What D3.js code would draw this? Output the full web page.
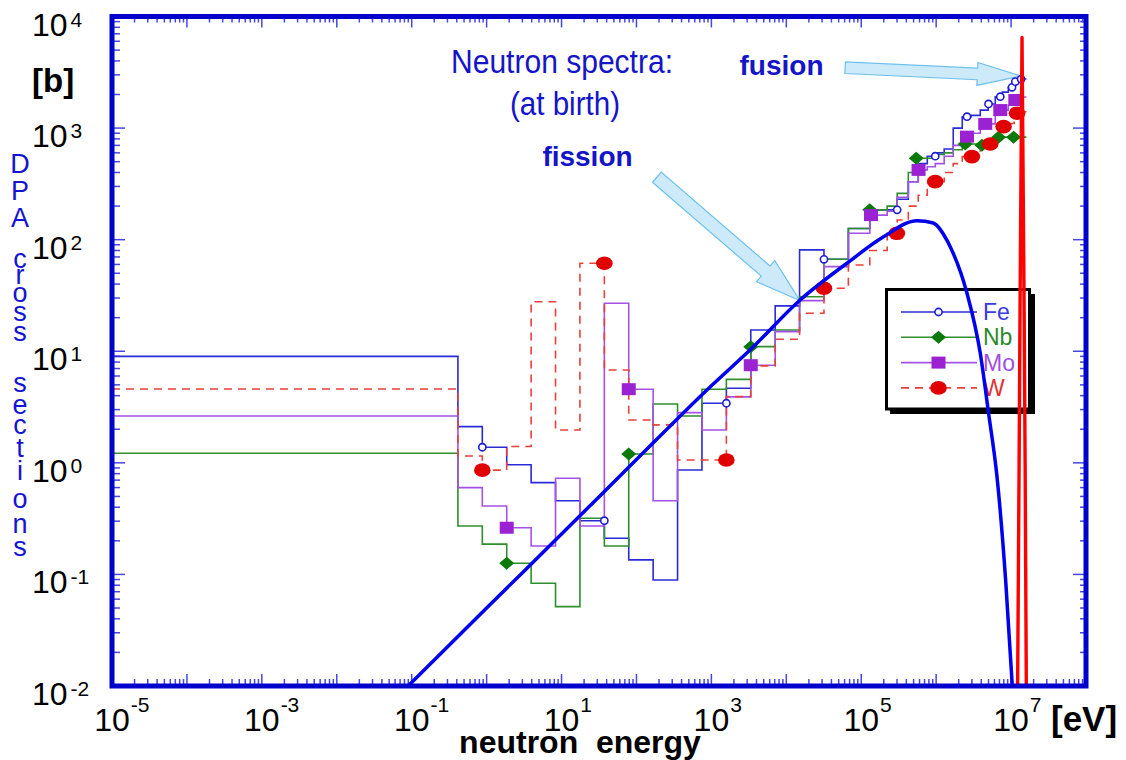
<!DOCTYPE html>
<html>
<head>
<meta charset="utf-8">
<script src="https://cdn.jsdelivr.net/npm/d3@7"></script>
<style>
  body { margin: 0; background: #ffffff; }
  svg { display: block; font-family: "Liberation Sans", Arial, sans-serif; }
</style>
</head>
<body>
<svg id="chart" width="1126" height="760"></svg>
<script>
// ---- energy group structure (eV) ----
const energyEdges = [1e-5, 0.414, 0.876, 1.855, 3.928, 8.315, 17.6, 37.27, 78.89, 167, 353.6, 748.5,
  1585, 3355, 7102, 15030, 31820, 67380, 1.3e5, 2.22e5, 3.02e5, 4.25e5, 5.77e5, 7.61e5, 9.73e5,
  1.28e6, 1.69e6, 2.23e6, 2.94e6, 3.88e6, 4.96e6, 6.15e6, 7.63e6, 9.18e6, 1.10e7, 1.33e7, 1.6e7];

// ---- DPA cross sections per group (barn) ----
const feDpa = [9.0, 2.11, 1.38, 0.96, 0.665, 0.458, 0.303, 0.211, 0.135, 0.089, 0.863, 3.42, 4.66, 15.5, 25.5, 81, 66.7, 126,
  185, 185, 230, 330, 480, 560, 600, 650, 1000, 1265, 1300, 1450, 1645, 1911, 2100, 2321, 2608, 2750];
const nbDpa = [1.22, 0.272, 0.187, 0.126, 0.0834, 0.0514, 0.319, 0.18, 1.20, 3.37, 2.63, 4.57, 5.6, 11.0, 15.5, 30.8, 66.7, 126,
  185, 200, 260, 400, 536, 536, 580, 600, 640, 721, 721, 700, 760, 829, 829, 829, 829, 829];
const moDpa = [2.63, 0.60, 0.41, 0.262, 0.180, 0.728, 0.272, 26.9, 4.57, 0.458, 2.82, 1.97, 3.9, 7.5, 15.0, 28.4, 57.3, 114,
  166, 180, 240, 330, 422, 450, 480, 560, 700, 838, 900, 1090, 1090, 1450, 1450, 1600, 1785, 1900];
const wDpa = [4.59, 1.15, 0.86, 1.40, 27.8, 1.97, 61.5, 6.8, 2.42, 2.19, 1.06, 1.06, 3.92, 7.4, 12.8, 21.9, 36.7, 59.3,
  80, 114, 150, 200, 250, 300, 331, 400, 480, 555, 555, 720, 720, 850, 1030, 1100, 1360, 1400];

// ---- symbol positions [energy eV, cross section b] ----
const feMarks = [[0.876, 1.38], [37.27, 0.303], [1585, 3.42], [31820, 66.7], [3.02e5, 185], [9.73e5, 560],
  [2.58e6, 1265], [5.0e6, 1645], [7.18e6, 1911], [1.03e7, 2321], [1.14e7, 2608], [1.36e7, 2750]];
const nbMarks = [[1.855, 0.126], [78.89, 1.20], [3355, 11.0], [1.3e5, 185], [5.42e5, 536], [2.44e6, 721],
  [4.08e6, 700], [6.8e6, 829], [1.08e7, 829]];
const moMarks = [[1.855, 0.262], [78.89, 4.57], [3355, 7.5], [1.35e5, 166], [5.82e5, 422], [2.58e6, 838],
  [4.52e6, 1090], [7.18e6, 1450], [1.14e7, 1785]];
const wMarks = [[0.876, 0.86], [37.27, 61.5], [1585, 1.06], [31820, 36.7], [2.99e5, 114], [9.7e5, 331],
  [3.0e6, 555], [5.27e6, 720], [7.94e6, 1030], [1.2e7, 1360]];

// ---- neutron spectra (arbitrary units on the same axis) ----
const fissionSpectrum = [[0.0895, 0.01], [1, 0.05], [10, 0.23], [100, 1.07], [1000, 4.9], [3300, 10.3],
  [15300, 28.8], [64400, 61.5], [1.986e5, 106], [5.55e5, 148], [9.14e5, 141], [1.39e6, 99], [1.54e6, 86.5],
  [2.58e6, 33.1], [3.88e6, 9.6], [5.01e6, 2.78], [6.49e6, 0.75], [8.5e6, 0.085], [1.06e7, 0.008]];
const fusionSpectrum = [[1.22e7, 0.008], [1.28e7, 1], [1.32e7, 30], [1.37e7, 1000], [1.4e7, 6500],
  [1.43e7, 1000], [1.49e7, 30], [1.54e7, 1], [1.6e7, 0.008]];

// ---- axis ticks ----
const xDecades = d3.range(-5, 9);          // 1e-5 .. 1e8
const xLabelExps = [-5, -3, -1, 1, 3, 5, 7];
const yDecades = d3.range(-2, 5);          // 1e-2 .. 1e4
const yLabelExps = [-2, -1, 0, 1, 2, 3, 4];

const legendItems = [
  { name: "Fe", line: "#2a2ad6", text: "#3a3ae0", dash: null, mark: "circle" },
  { name: "Nb", line: "#2d8f2d", text: "#2a8a2a", dash: null, mark: "diamond" },
  { name: "Mo", line: "#a451e6", text: "#a050e0", dash: null, mark: "square" },
  { name: "W",  line: "#e8403a", text: "#e03030", dash: "8,6", mark: "blob" }
];
const seriesData = { Fe: [feDpa, feMarks], Nb: [nbDpa, nbMarks], Mo: [moDpa, moMarks], W: [wDpa, wMarks] };

(function draw() {
  const svg = d3.select("#chart");
  const pL = 112, pR = 1086, pT = 16.5, pB = 686;
  const x = d3.scaleLog().domain([1e-5, 1e8]).range([pL, pR]);
  const y = d3.scaleLog().domain([1e-2, 1e4]).range([pB, pT]);

  svg.append("rect").attr("width", 1126).attr("height", 760).attr("fill", "#ffffff");

  svg.append("clipPath").attr("id", "plotClip")
    .append("rect").attr("x", pL).attr("y", pT).attr("width", pR - pL).attr("height", pB - pT);

  // ticks on all four sides
  const ticksG = svg.append("g").attr("stroke", "#4646e2").attr("stroke-width", 1.5);
  function minorsOf(decades) {
    const out = [];
    decades.slice(0, -1).forEach(d => { for (let m = 2; m <= 9; m++) out.push(m * Math.pow(10, d)); });
    return out;
  }
  const xMaj = xDecades.map(d => Math.pow(10, d));
  const xMin = minorsOf(xDecades);
  const yMaj = yDecades.map(d => Math.pow(10, d));
  const yMin = minorsOf(yDecades);
  function vTicks(vals, y0, len) {
    ticksG.selectAll(null).data(vals).enter().append("line")
      .attr("x1", d => x(d)).attr("x2", d => x(d)).attr("y1", y0).attr("y2", y0 + len);
  }
  function hTicks(vals, x0, len) {
    ticksG.selectAll(null).data(vals).enter().append("line")
      .attr("y1", d => y(d)).attr("y2", d => y(d)).attr("x1", x0).attr("x2", x0 + len);
  }
  vTicks(xMaj, pB, -12); vTicks(xMin, pB, -7);
  vTicks(xMaj, pT, 11);  vTicks(xMin, pT, 6);
  hTicks(yMaj, pL, 13);  hTicks(yMin, pL, 8);
  hTicks(yMaj, pR, -13); hTicks(yMin, pR, -6);

  // legend box (drawn under the curves)
  const lg = svg.append("g");
  lg.append("rect").attr("x", 890).attr("y", 294).attr("width", 145).attr("height", 120).attr("fill", "#000");
  lg.append("rect").attr("x", 886.5).attr("y", 289.5).attr("width", 143).attr("height", 119.5)
    .attr("fill", "#ffffff").attr("stroke", "#000").attr("stroke-width", 3);

  function drawMark(g, kind, cx, cy) {
    if (kind === "circle") {
      g.append("circle").attr("cx", cx).attr("cy", cy).attr("r", 3.6)
        .attr("fill", "#ffffff").attr("stroke", "#1c1cd8").attr("stroke-width", 1.6);
    } else if (kind === "diamond") {
      g.append("path").attr("d", `M${cx},${cy - 6.5}L${cx + 7.5},${cy}L${cx},${cy + 6.5}L${cx - 7.5},${cy}Z`)
        .attr("fill", "#0b7a0b");
    } else if (kind === "square") {
      g.append("rect").attr("x", cx - 7).attr("y", cy - 6).attr("width", 14).attr("height", 12)
        .attr("fill", "#9a22d2");
    } else {
      g.append("ellipse").attr("cx", cx).attr("cy", cy).attr("rx", 8.3).attr("ry", 6.8)
        .attr("fill", "#e00000");
    }
  }

  legendItems.forEach((it, i) => {
    const ry = 312 + i * 25.3;
    lg.append("line").attr("x1", 901).attr("x2", 977).attr("y1", ry).attr("y2", ry)
      .attr("stroke", it.line).attr("stroke-width", 1.6).attr("stroke-dasharray", it.dash);
    drawMark(lg, it.mark, 938.5, ry);
    lg.append("text").attr("x", 983).attr("y", ry + 8).attr("font-size", 23)
      .attr("fill", it.text).text(it.name);
  });

  // annotation arrows (anchored in data space)
  const arrows = [
    { tail: [187, 363], tip: [15100, 28.5], shaft: 6.7, head: 14, headLen: 45 },
    { tail: [6.1e4, 3475], tip: [1.35e7, 2930], shaft: 5.8, head: 11.5, headLen: 43.5 }
  ];
  const arrowG = svg.append("g");
  arrows.forEach(a => {
    const tx = x(a.tail[0]), ty = y(a.tail[1]), px = x(a.tip[0]), py = y(a.tip[1]);
    const L = Math.hypot(px - tx, py - ty), ux = (px - tx) / L, uy = (py - ty) / L, nx = -uy, ny = ux;
    const bx = px - ux * a.headLen, by = py - uy * a.headLen;
    const pts = [
      [tx + nx * a.shaft, ty + ny * a.shaft], [bx + nx * a.shaft, by + ny * a.shaft],
      [bx + nx * a.head, by + ny * a.head], [px, py],
      [bx - nx * a.head, by - ny * a.head], [bx - nx * a.shaft, by - ny * a.shaft],
      [tx - nx * a.shaft, ty - ny * a.shaft]
    ];
    arrowG.append("path").attr("d", "M" + pts.map(p => p.join(",")).join("L") + "Z")
      .attr("fill", "#cdeafb").attr("stroke", "#6cc0ef").attr("stroke-width", 1.2);
  });

  // step histograms
  const stepLine = d3.line().x(d => x(d[0])).y(d => y(d[1])).curve(d3.curveStepAfter);
  const dataG = svg.append("g").attr("clip-path", "url(#plotClip)");
  legendItems.forEach(it => {
    const vals = seriesData[it.name][0];
    const pts = vals.map((v, i) => [energyEdges[i], v]);
    pts.push([energyEdges[vals.length], vals[vals.length - 1]]);
    dataG.append("path").attr("d", stepLine(pts)).attr("fill", "none")
      .attr("stroke", it.line).attr("stroke-width", 1.6).attr("stroke-dasharray", it.dash);
  });
  legendItems.forEach(it => {
    seriesData[it.name][1].forEach(m => drawMark(dataG, it.mark, x(m[0]), y(m[1])));
  });

  // neutron spectra
  const specLine = d3.line().x(d => x(d[0])).y(d => y(d[1])).curve(d3.curveMonotoneX);
  const specG = svg.append("g").attr("clip-path", "url(#plotClip)");
  specG.append("path").attr("d", specLine(fissionSpectrum)).attr("fill", "none")
    .attr("stroke", "#0000ee").attr("stroke-width", 3.5);
  specG.append("path").attr("d", d3.line().x(d => x(d[0])).y(d => y(d[1]))(fusionSpectrum))
    .attr("fill", "none").attr("stroke", "#ff0000").attr("stroke-width", 3.4).attr("stroke-linejoin", "round");

  // frame
  svg.append("rect").attr("x", pL).attr("y", pT).attr("width", pR - pL).attr("height", pB - pT)
    .attr("fill", "none").attr("stroke", "#0000cc").attr("stroke-width", 5);

  // tick labels
  const labG = svg.append("g").attr("fill", "#000");
  yLabelExps.forEach(e => {
    const t = labG.append("text").attr("x", 32).attr("y", y(Math.pow(10, e)) + 19).attr("font-size", 32);
    t.append("tspan").text("10");
    t.append("tspan").attr("font-size", 21).attr("dx", 3).attr("dy", -9).text(String(e));
  });
  xLabelExps.forEach(e => {
    const t = labG.append("text").attr("x", x(Math.pow(10, e)) - 17.8).attr("y", 731).attr("font-size", 32);
    t.append("tspan").text("10");
    t.append("tspan").attr("font-size", 21).attr("dx", 1).attr("dy", -19).text(String(e));
  });
  labG.append("text").attr("x", 1051).attr("y", 731).attr("font-size", 35).attr("font-weight", "bold").text("[eV]");
  labG.append("text").attr("x", 580).attr("y", 753).attr("font-size", 32).attr("font-weight", "bold")
    .attr("text-anchor", "middle").style("white-space", "pre").text("neutron  energy");
  labG.append("text").attr("x", 32).attr("y", 92).attr("font-size", 33).attr("font-weight", "bold").text("[b]");

  // vertical axis title, one letter per line
  const titleLetters = [["D", 173], ["P", 200], ["A", 227], ["c", 268], ["r", 284], ["o", 302], ["s", 321], ["s", 341],
    ["s", 392], ["e", 414], ["c", 434], ["t", 457], ["i", 480], ["o", 508], ["n", 533], ["s", 556]];
  const title = svg.append("text").attr("fill", "#1414d2").attr("font-size", 27).attr("text-anchor", "middle")
    .attr("x", 20).attr("y", titleLetters[0][1]);
  titleLetters.forEach(([ch, by], i) => {
    title.append("tspan").attr("x", 20)
      .attr("dy", i === 0 ? 0 : by - titleLetters[i - 1][1]).text(ch);
  });

  // annotation text
  const noteG = svg.append("g").attr("fill", "#1414c8");
  noteG.append("text").attr("x", 562).attr("y", 73).attr("font-size", 33).attr("text-anchor", "middle")
    .attr("textLength", 222).attr("lengthAdjust", "spacingAndGlyphs").text("Neutron spectra:");
  noteG.append("text").attr("x", 565).attr("y", 115).attr("font-size", 33).attr("text-anchor", "middle")
    .attr("textLength", 110).attr("lengthAdjust", "spacingAndGlyphs").text("(at birth)");
  noteG.append("text").attr("x", 587.5).attr("y", 166).attr("font-size", 28).attr("font-weight", "bold")
    .attr("text-anchor", "middle").text("fission");
  noteG.append("text").attr("x", 781.5).attr("y", 75).attr("font-size", 28).attr("font-weight", "bold")
    .attr("text-anchor", "middle").text("fusion");
})();
</script>
</body>
</html>
